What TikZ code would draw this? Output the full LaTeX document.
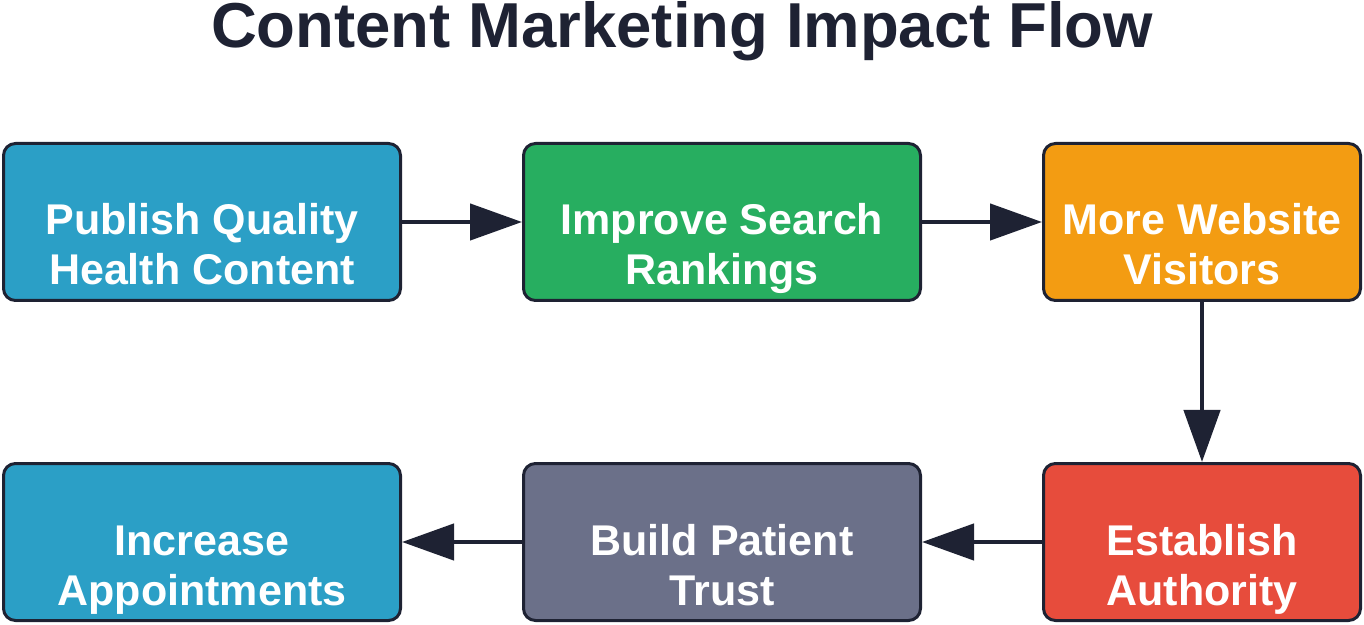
\documentclass[tikz,border=0pt]{standalone}
\usepackage{fontspec}
\setmainfont{Liberation Sans}
\usetikzlibrary{arrows.meta}
\definecolor{ink}{HTML}{1E2233}
\definecolor{cblue}{HTML}{2B9FC6}
\definecolor{cgreen}{HTML}{27AE60}
\definecolor{corange}{HTML}{F39C12}
\definecolor{cred}{HTML}{E74C3C}
\definecolor{cgray}{HTML}{6B7089}
\newcommand{\twolines}[2]{\rule{0pt}{33pt}#1\\#2\rule[-10pt]{0pt}{10pt}}
\tikzset{
  stepbox/.style={draw=ink,line width=3pt,rounded corners=12pt,
    minimum width=397pt,minimum height=157pt,inner sep=0pt},
  narrowbox/.style={stepbox,minimum width=317pt},
  boxtext/.style={text=white,align=center,yshift=-26.5pt,
    font=\bfseries\fontsize{43}{50}\selectfont},
  flow/.style={->,draw=ink,line width=4.5pt},
}
\begin{document}
\begin{tikzpicture}[x=1pt,y=1pt,>={Triangle[length=52pt,width=36pt]}]
\useasboundingbox (0,0) rectangle (1364,624);
    \node[anchor=base,text=ink,font=\bfseries\fontsize{63.5}{70}\selectfont] (title) at (682,576) {Content Marketing Impact Flow};
    % top row
    \node[stepbox,fill=cblue,label={[boxtext]center:\twolines{Publish Quality}{Health Content}}] (publish) at (202,402) {};
    \node[stepbox,fill=cgreen,label={[boxtext]center:\twolines{Improve Search}{Rankings}}] (rank) at (722,402) {};
    \node[narrowbox,fill=corange,label={[boxtext]center:\twolines{More Website}{Visitors}}] (visit) at (1202,402) {};
    % bottom row
    \node[narrowbox,fill=cred,label={[boxtext]center:\twolines{Establish}{Authority}}] (auth) at (1202,82) {};
    \node[stepbox,fill=cgray,label={[boxtext]center:\twolines{Build Patient}{Trust}}] (trust) at (722,82) {};
    \node[stepbox,fill=cblue,label={[boxtext]center:\twolines{Increase}{Appointments}}] (appt) at (202,82) {};
    \draw[flow] (publish) -- (rank);
    \draw[flow] (rank) -- (visit);
    \draw[flow] (visit) -- (auth);
    \draw[flow] (auth) -- (trust);
    \draw[flow] (trust) -- (appt);
\end{tikzpicture}
\end{document}
